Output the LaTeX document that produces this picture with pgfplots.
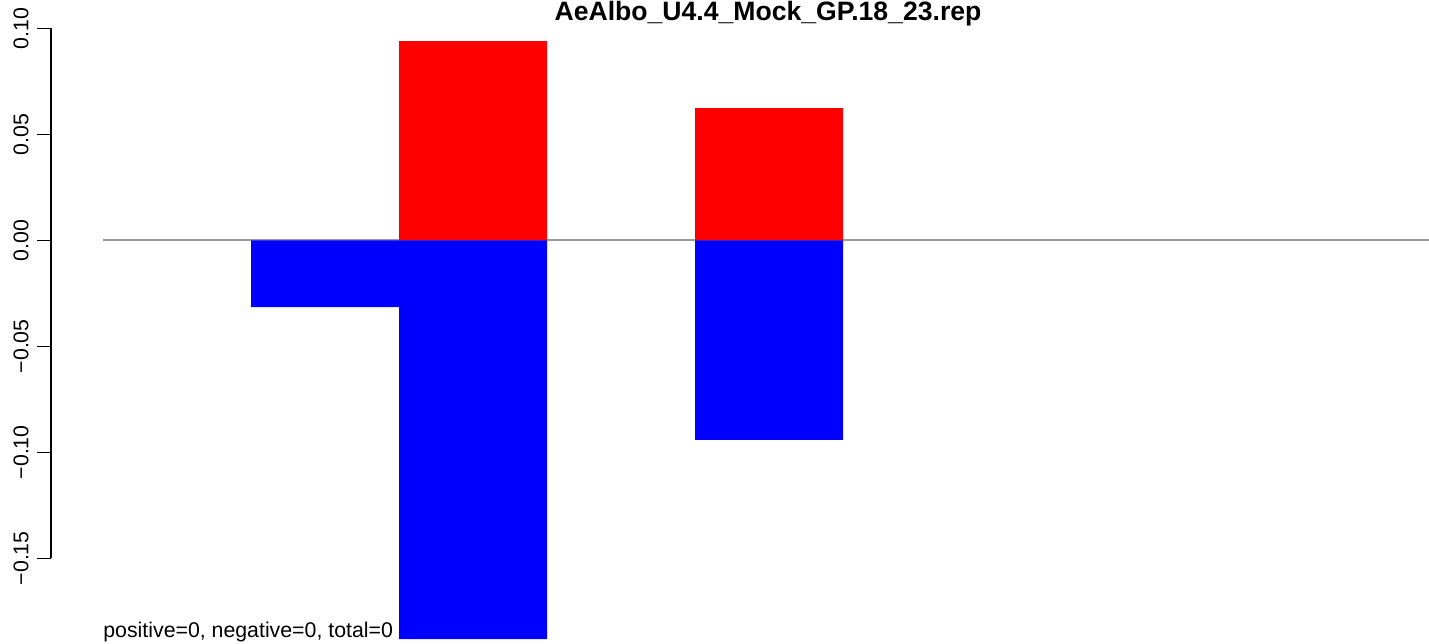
\documentclass[border=0pt]{standalone}
\usepackage{fontspec}
\setmainfont{Liberation Sans}
\usepackage{pgfplots}
\pgfplotsset{compat=1.18}
\begin{document}
\fontsize{10.65}{12}\selectfont
\begin{tikzpicture}
\path[use as bounding box] (0,0) rectangle (714.5pt,321.5pt);
\begin{axis}[
 at={(25.5pt,0pt)}, anchor=south west,
 scale only axis, width=689pt, height=321.5pt,
 xmin=-0.3514, xmax=8.959, ymin=-0.18995, ymax=0.11335,
 axis x line=none, axis y line*=left, y axis line style={draw=none},
 ytick={-0.15,-0.10,-0.05,0,0.05,0.10},
 yticklabels={−0.15,−0.10,−0.05,0.00,0.05,0.10},
 tick align=outside, major tick length=7pt, tick style={black, line width=0.65pt},
 yticklabel style={xshift=-4pt, rotate=90, anchor=south, inner sep=0pt, font=\fontsize{10.65}{12}\selectfont},
 clip=false,
]
\addplot[color={rgb,255:red,155;green,155;blue,155}, line width=0.85pt, no marks] coordinates {(0,0) (8.959,0)};
\addplot[ybar, bar width=1, bar shift=0, fill=red, draw=none] coordinates {(2.5,0.0940) (4.5,0.0624)};
\addplot[ybar, bar width=1, bar shift=0, fill=blue, draw=none] coordinates {(1.5,-0.0315) (2.5,-0.1881) (4.5,-0.0941)};
\draw[line width=0.65pt] (axis cs:-0.3514,-0.15) -- (axis cs:-0.3514,0.10);
\end{axis}
\node[anchor=base, font=\bfseries\fontsize{13.3}{15}\selectfont, inner sep=0pt] at (384pt,311.3pt) {AeAlbo\_U4.4\_Mock\_GP.18\_23.rep};
\node[anchor=base west, inner sep=0pt] at (51.5pt,3pt) {positive=0, negative=0, total=0};
\end{tikzpicture}
\end{document}
